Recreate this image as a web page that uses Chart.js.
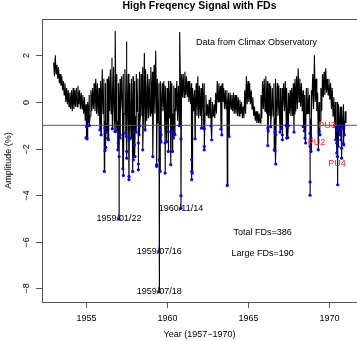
<!DOCTYPE html>
<html>
<head>
<meta charset="utf-8">
<script src="https://cdn.jsdelivr.net/npm/chart.js@4.4.0/dist/chart.umd.min.js"></script>
<style>html,body{margin:0;padding:0;background:#fff;}</style>
</head>
<body>
<canvas id="myChart" width="357" height="341"></canvas>
<script>
// high frequency signal read as upper / lower swing every 0.1 yr from 1953.0
var bandStart = 1953.0;
var bandStep = 0.1;
var bandHigh = [
  1.7, 2.0, 1.6, 1.5, 1.2, 1.1, 0.9, 0.8, 0.6, 0.5,
  0.4, 0.5, 0.6, 0.5, 0.6, 0.7, 0.5, 0.4, 0.3, 0.2,
  -0.1, 0.0, 0.3, 0.5, 0.6, 0.8, 1.0, 0.8, 0.6, 0.9,
  1.4, 1.0, 0.8, 1.0, 1.1, 1.4, 1.9, 1.5, 3.05, 1.2,
  0.8, 1.0, 1.1, 1.2, 1.4, 2.6, 1.2, 0.8, 1.0, 1.1,
  0.9, 1.2, 1.0, 1.3, 1.2, 1.5, 2.1, 1.4, 1.2, 1.0,
  1.5, 1.3, 1.6, 2.2, 1.0, 0.8, 0.9, 0.8, 0.9, 0.7,
  0.6, 0.9, 0.9, 0.8, 0.7, 0.6, 0.9, 0.7, 3.0, 1.2,
  1.2, 1.3, 1.1, 0.9, 0.9, 0.8, 0.6, 0.5, 0.8, 1.1,
  0.7, 0.6, 0.8, 0.8, 0.3, -0.1, 0.1, 0.2, 0.0, -0.1,
  0.4, 0.9, 0.8, 0.7, 0.8, 0.6, 0.5, 0.5, 0.4, 0.4,
  0.3, 0.4, 0.3, 0.3, 0.2, 0.1, 0.0, -0.2, 0.5, 1.1,
  0.9, 0.8, 0.5, 0.2, -0.2, -0.4, -0.4, -0.5, 0.3, 0.9,
  1.0, 1.1, 0.9, 0.8, 0.7, 0.6, 0.8, 1.0, 0.8, 0.7,
  0.6, 0.6, 0.8, 0.9, 0.6, 0.4, 0.5, 0.6, 0.8, 1.0,
  1.1, 1.45, 1.0, 0.8, 0.5, 0.3, 0.6, 0.6, 0.3, 0.5,
  1.2, 2.0, 1.0, 0.4, 0.0, 0.6, 1.2, 1.3, 1.45, 1.0,
  1.0, 0.8, 0.6, 0.2, 0.0, 0.0, -0.1, -0.2, -0.2, -0.1,
  -0.4
];
var bandLow = [
  1.1, 1.2, 1.0, 0.8, 0.7, 0.5, 0.3, 0.0, -0.1, -0.2,
  -0.3, -0.4, -0.3, -0.2, -0.2, -0.1, -0.3, -0.3, -0.5, -0.8,
  -1.0, -0.9, -0.6, -0.4, -0.3, -0.4, -0.5, -0.6, -0.9, -0.7,
  -0.5, -0.8, -0.9, -0.6, -0.4, -0.5, -0.6, -0.7, -0.5, -0.8,
  -0.9, -0.6, -0.7, -0.5, -0.4, -0.5, -0.8, -0.9, -0.7, -0.8,
  -0.6, -0.4, -0.5, -0.7, -0.6, -0.5, -0.4, -0.8, -0.7, -0.6,
  -0.5, -0.7, -0.5, -0.6, -0.9, -0.8, -0.5, -0.4, -0.7, -0.8,
  -0.9, -0.7, -0.4, -0.5, -0.3, -0.4, -0.8, -0.9, -0.4, 0.2,
  0.2, 0.3, 0.2, 0.0, -0.1, -0.3, -0.4, -0.5, -0.6, -0.7,
  -0.6, -0.5, -0.4, -0.5, -0.6, -0.7, -0.7, -0.6, -0.6, -0.7,
  -0.5, 0.0, 0.0, -0.1, 0.0, -0.3, -0.3, -0.3, -0.4, -0.3,
  -0.4, -0.5, -0.5, -0.6, -0.6, -0.5, -0.7, -0.7, -0.5, -0.1,
  0.0, -0.1, -0.3, -0.6, -0.8, -0.9, -0.9, -0.9, -0.7, -0.3,
  -0.4, -0.5, -0.6, -0.6, -0.5, -0.6, -0.7, -0.5, -0.6, -0.7,
  -0.6, -0.5, -0.4, -0.6, -0.7, -0.5, -0.6, -0.6, -0.5, -0.4,
  -0.3, 0.0, -0.2, -0.4, -0.6, -0.6, -0.5, -0.5, -0.7, -0.6,
  -0.3, 0.0, -0.4, -0.6, -0.8, -0.4, 0.2, 0.3, 0.4, 0.3,
  0.1, -0.3, -0.6, -0.9, -1.0, -1.0, -1.1, -1.1, -1.0, -0.8,
  -0.9
];

// Forbush decreases (blue dots)
var fdYear = [
  1955.00, 1955.04, 1955.06, 1955.20, 1955.86, 1955.93, 1956.13, 1956.17, 1956.17, 1956.22,
  1956.28, 1956.34, 1956.38, 1956.62, 1956.79, 1956.90, 1956.96, 1956.99, 1957.04, 1957.04,
  1957.10, 1957.10, 1957.27, 1957.30, 1957.45, 1957.49, 1957.51, 1957.51, 1957.65, 1957.65,
  1957.65, 1957.78, 1957.88, 1957.92, 1957.98, 1957.98, 1958.02, 1958.09, 1958.23, 1958.23,
  1958.23, 1958.27, 1958.31, 1958.50, 1958.64, 1959.12, 1959.36, 1959.36, 1959.51, 1959.52,
  1959.52, 1959.57, 1959.57, 1959.63, 1959.63, 1959.88, 1959.88, 1959.98, 1960.08, 1960.08,
  1960.23, 1960.29, 1960.33, 1960.39, 1960.43, 1960.49, 1960.76, 1960.86, 1960.86, 1960.86,
  1961.52, 1961.52, 1961.52, 1961.56, 1961.73, 1962.12, 1962.24, 1962.30, 1962.30, 1962.30,
  1962.72, 1962.76, 1963.33, 1963.38, 1963.72, 1963.83, 1966.22, 1966.22, 1966.25, 1966.40,
  1966.62, 1966.67, 1966.67, 1966.71, 1966.71, 1966.98, 1967.08, 1967.12, 1967.12, 1967.35,
  1967.39, 1967.45, 1967.49, 1967.84, 1968.41, 1968.48, 1968.52, 1968.56, 1968.83, 1968.83,
  1968.83, 1968.83, 1968.89, 1968.89, 1969.34, 1969.40, 1969.44, 1970.37, 1970.41, 1970.48,
  1970.48, 1970.48, 1970.52, 1970.54, 1970.57, 1970.57, 1970.68, 1970.68, 1970.74, 1970.78,
  1970.78, 1970.78, 1970.88, 1970.88, 1970.91, 1970.95
];
var fdAmp = [
  -1.53, -1.06, -1.58, -1.01, -1.20, -1.41, -2.98, -1.12, -2.09, -1.95,
  -1.29, -1.55, -1.62, -1.15, -1.27, -1.24, -2.05, -1.76, -2.34, -5.02,
  -1.41, -1.55, -2.86, -3.15, -1.34, -1.48, -2.12, -2.41, -1.62, -3.19,
  -3.33, -1.55, -2.98, -2.48, -1.27, -1.84, -2.34, -1.29, -1.76, -2.66,
  -2.91, -1.41, -1.02, -2.05, -1.20, -2.34, -2.69, -2.76, -2.48, -6.42,
  -8.14, -1.20, -2.98, -1.41, -1.72, -1.76, -3.05, -1.70, -1.27, -2.12,
  -2.69, -1.27, -2.12, -1.55, -1.34, -1.41, -1.01, -1.58, -4.02, -4.56,
  -2.48, -2.98, -3.33, -3.05, -1.58, -1.12, -1.12, -1.15, -1.91, -2.05,
  -1.03, -1.62, -1.17, -1.41, -3.58, -1.48, -1.12, -1.87, -1.24, -1.06,
  -2.05, -1.27, -2.09, -1.41, -2.66, -1.29, -1.15, -1.41, -1.62, -1.01,
  -1.55, -1.53, -1.02, -1.29, -1.06, -1.24, -1.55, -1.76, -1.34, -1.91,
  -3.43, -4.00, -1.55, -2.12, -2.05, -1.27, -1.41, -1.06, -1.62, -1.20,
  -1.76, -2.19, -2.34, -3.55, -1.06, -1.91, -1.27, -1.41, -1.62, -1.12,
  -1.98, -2.41, -1.01, -1.76, -1.84, -1.41
];

var threshold = -1;
var xTicks = [1955, 1960, 1965, 1970];
var yTicks = [-8, -6, -4, -2, 0, 2];
var xMin = 1952.28, xMax = 1971.73;
var yMin = -8.58, yMax = 3.56;

// text notes: [year, amplitude, text, colour]
var notes = [
  [1965.52, 2.53, 'Data from Climax Observatory', '#000'],
  [1957.04, -5.02, '1959/01/22', '#000'],
  [1960.86, -4.56, '1960/11/14', '#000'],
  [1959.52, -6.42, '1959/07/16', '#000'],
  [1959.52, -8.14, '1959/07/18', '#000'],
  [1965.90, -5.58, 'Total FDs=386', '#000'],
  [1965.90, -6.52, 'Large FDs=190', '#000'],
  [1969.88, -0.99, 'PU3', '#ff2020'],
  [1969.23, -1.72, 'PU2', '#ff2020'],
  [1970.49, -2.66, 'PU4', '#ff2020']
];

var FONT = '"Liberation Sans", Arial, Helvetica, sans-serif';

// signal line: swing high/low, plus the dips down to each FD
var linePts = [];
for (var i = 0; i < bandHigh.length; i++) {
  linePts.push({x: bandStart + i * bandStep, y: bandHigh[i]});
  linePts.push({x: bandStart + i * bandStep + bandStep / 2, y: bandLow[i]});
}
var fdPts = [];
for (var j = 0; j < fdYear.length; j++) {
  fdPts.push({x: fdYear[j], y: fdAmp[j]});
  linePts.push({x: fdYear[j], y: fdAmp[j]});
}
linePts.sort(function(a, b) { return a.x - b.x || b.y - a.y; });

var rAxes = {
  id: 'rAxes',
  afterDraw: function(chart) {
    var ctx = chart.ctx, a = chart.chartArea;
    var xs = chart.scales.x, ys = chart.scales.y;
    ctx.save();
    ctx.strokeStyle = '#555';
    ctx.lineWidth = 1;
    ctx.strokeRect(a.left + 0.5, a.top + 0.5, a.right - a.left, a.bottom - a.top);
    ctx.fillStyle = '#000';
    ctx.font = '9px ' + FONT;
    ctx.textAlign = 'center';
    ctx.textBaseline = 'middle';
    ctx.beginPath();
    xTicks.forEach(function(t) {
      var px = Math.round(xs.getPixelForValue(t)) + 0.5;
      ctx.moveTo(px, a.bottom);
      ctx.lineTo(px, a.bottom + 6);
      ctx.fillText(String(t), px, a.bottom + 17);
    });
    yTicks.forEach(function(t) {
      var py = Math.round(ys.getPixelForValue(t)) + 0.5;
      ctx.moveTo(a.left, py);
      ctx.lineTo(a.left - 6, py);
      ctx.save();
      ctx.translate(a.left - 15, py);
      ctx.rotate(-Math.PI / 2);
      ctx.fillText(String(t).replace('-', '\u2212'), 0, 0);
      ctx.restore();
    });
    ctx.stroke();
    // axis titles
    ctx.fillText('Year (1957\u22121970)', (a.left + a.right) / 2, 335);
    ctx.save();
    ctx.translate(9, (a.top + a.bottom) / 2);
    ctx.rotate(-Math.PI / 2);
    ctx.fillText('Amplitude (%)', 0, 0);
    ctx.restore();
    // main title
    ctx.font = 'bold 10.5px ' + FONT;
    ctx.fillText('High Freqency Signal with FDs', (a.left + a.right) / 2, 6);
    // notes
    ctx.font = '9px ' + FONT;
    notes.forEach(function(n) {
      ctx.fillStyle = n[3];
      ctx.fillText(n[2], xs.getPixelForValue(n[0]), ys.getPixelForValue(n[1]));
    });
    ctx.restore();
  }
};

var ctx = document.getElementById('myChart').getContext('2d');
var myChart = new Chart(ctx, {
  type: 'line',
  data: {
    datasets: [{
      label: 'FDs',
      data: fdPts,
      showLine: false,
      pointRadius: 1.6,
      pointBackgroundColor: '#0000ff',
      pointBorderWidth: 0,
      order: 0
    }, {
      label: 'threshold',
      data: [{x: xMin, y: threshold}, {x: xMax, y: threshold}],
      borderColor: '#555',
      borderWidth: 1,
      pointRadius: 0,
      order: 1
    }, {
      label: 'signal',
      data: linePts,
      borderColor: '#000',
      borderWidth: 1.1,
      pointRadius: 0,
      tension: 0,
      order: 2
    }]
  },
  options: {
    responsive: false,
    animation: false,
    devicePixelRatio: 1,
    layout: {autoPadding: false, padding: {left: 42, top: 19, right: 0, bottom: 39}},
    plugins: {legend: {display: false}, title: {display: false}, tooltip: {enabled: false}},
    scales: {
      x: {type: 'linear', min: xMin, max: xMax, display: false},
      y: {type: 'linear', min: yMin, max: yMax, display: false}
    }
  },
  plugins: [rAxes]
});
</script>
</body>
</html>
